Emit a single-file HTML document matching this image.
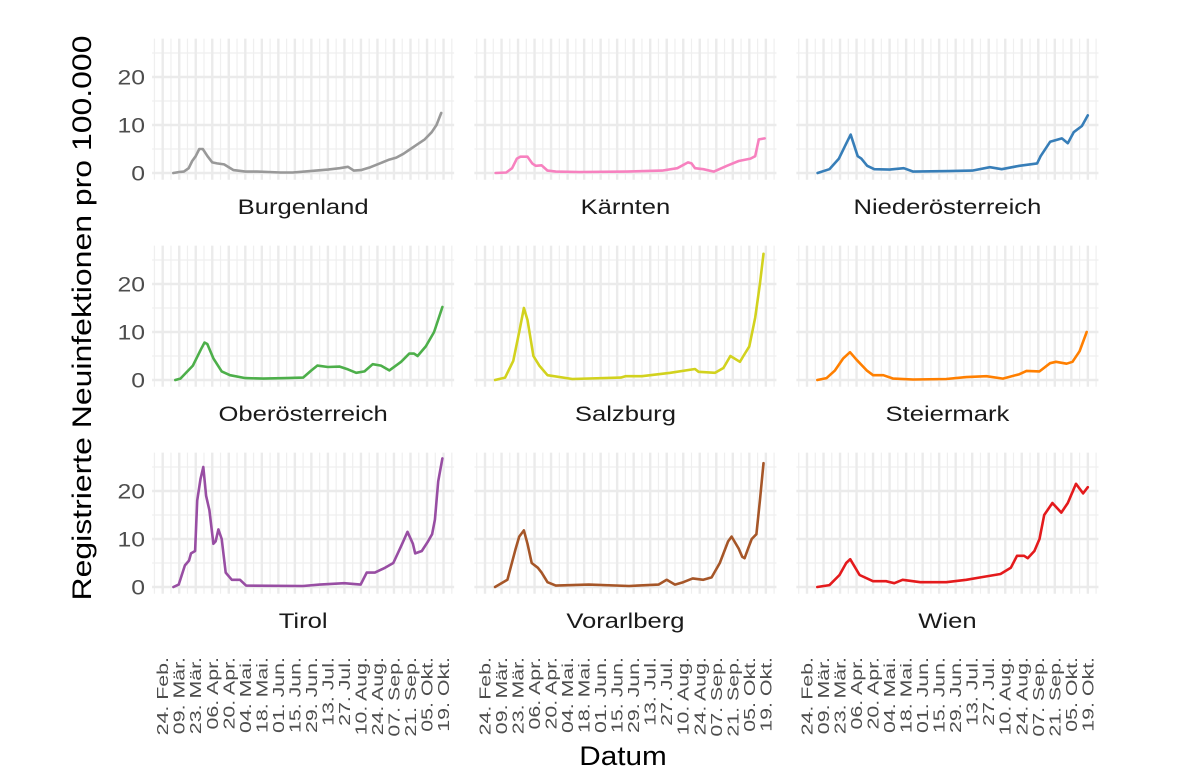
<!DOCTYPE html>
<html><head><meta charset="utf-8">
<style>
html,body{margin:0;padding:0;background:#fff;}
svg{display:block;font-family:"Liberation Sans",Arial,sans-serif;}
</style></head>
<body>
<svg id="chart" width="1200" height="783" viewBox="0 0 1200 783" xmlns="http://www.w3.org/2000/svg">
<text x="0" y="0" transform="translate(91,318) rotate(-90)" text-anchor="middle" font-size="27" fill="#000" textLength="565" lengthAdjust="spacingAndGlyphs">Registrierte Neuinfektionen pro 100.000</text>
<text x="0" y="0" transform="translate(623,765) scale(1.1,1)" text-anchor="middle" font-size="27" fill="#000">Datum</text>
</svg>
<script>
// tick labels (days since 24 Feb 2020, every 14 days)
const xTickLabels = ["24. Feb.","09. Mär.","23. Mär.","06. Apr.","20. Apr.","04. Mai.","18. Mai.","01. Jun.","15. Jun.","29. Jun.","13. Jul.","27. Jul.","10. Aug.","24. Aug.","07. Sep.","21. Sep.","05. Okt.","19. Okt."];
const yTicks = [0,10,20];
const regions = ["Burgenland","Kärnten","Niederösterreich","Oberösterreich","Salzburg","Steiermark","Tirol","Vorarlberg","Wien"];
const colors = ["#999999","#F781BF","#377EB8","#4DAF4A","#D2D21E","#FF7F00","#984EA3","#A65628","#E41A1C"];

const burgDays = [9,14,18,22,25,28,31,34,38,42,46,52,60,70,80,90,100,110,120,130,140,150,157,162,168,176,184,192,198,204,210,216,222,228,232,236];
const burgVals = [0,0.2,0.3,1,2.5,3.5,5,5,3.5,2.2,2,1.8,0.6,0.3,0.3,0.2,0.1,0.1,0.3,0.5,0.7,1.0,1.3,0.5,0.6,1.2,2,2.8,3.2,4,5,6,7,8.5,10,12.5];
const kaerDays = [9,18,23,27,30,36,40,43,48,53,60,80,120,150,163,172,175,178,185,194,205,215,225,229,232,237];
const kaerVals = [0,0.1,1,3,3.4,3.4,2,1.5,1.6,0.5,0.3,0.2,0.3,0.5,1,2.2,2,1,0.8,0.3,1.5,2.5,3,3.5,7,7.2];
const noeDays = [9,19,27,33,37,39,43,46,51,57,70,82,90,120,140,155,165,180,195,198,206,216,221,226,233,238];
const noeVals = [0,0.8,3,6,8,6.5,3.5,3,1.5,0.8,0.7,1,0.3,0.4,0.5,1.2,0.8,1.5,2,3.5,6.5,7.2,6.2,8.5,9.8,12];
const ooeDays = [10.7,15,25.6,32.6,35.4,37.8,43,50,57,70,85,105,119,126,131,140,150,157,164,171,178,185,192,202,209,213,216,223,230,237];
const ooeVals = [0,0.3,3,6.5,7.8,7.5,4.5,1.8,1,0.4,0.3,0.4,0.5,2,3,2.7,2.8,2.2,1.5,1.8,3.3,3,2,3.8,5.5,5.5,5,7,10,15.2];
const salzDays = [8.5,17,24,29,33,36,41,46,53,74,115,119,133,157,178,181,195,202,208,216,219,224,229,233,236];
const salzVals = [0,0.5,4,10,15,12.5,5,3,1,0.2,0.5,0.8,0.8,1.5,2.3,1.7,1.5,2.5,5,3.8,5,7,13,20,26.3];
const steiDays = [8.7,16.6,23.7,30.7,36.4,42,50.6,56,64.7,73,90,118,135,152,166,180,186,197,206,211,220,225,231,237];
const steiVals = [0,0.4,2,4.5,5.8,4.2,2,1,1,0.3,0.1,0.2,0.6,0.8,0.3,1.2,1.9,1.8,3.5,3.8,3.4,3.8,6,10];
const tiroDays = [9.1,13.6,18.8,22.3,24,27.5,29.2,32,34.4,36.8,39.6,43,44.8,47.2,50,53.4,58.6,65.5,70.7,119,133,153.8,167.7,172.9,179.8,188.4,195.4,202,207.5,212,214,219.6,224.8,228.3,230.7,233.5,237];
const tiroVals = [0,0.5,4.5,5.5,7,7.5,18,22.5,25,19,16,9,9.5,12,10,3,1.5,1.5,0.3,0.2,0.5,0.8,0.5,3,3,4,5,8.5,11.5,9,7,7.5,9.5,11,14,22,26.8];
const vorDays = [8.5,19,26,29,33,36,39.6,44.8,48,53,60,88,122,147,154,161,168,176,185,192,199,206,209,215,218,220,223,226,230,233,236];
const vorVals = [0,1.5,8,10.5,11.8,9,5,4,3,1,0.3,0.5,0.2,0.5,1.5,0.5,1,1.8,1.5,2,5,9.5,10.5,8,6.3,6,8,10,11,18,25.8];
const wienDays = [8.7,19.1,27.5,33.2,36.6,44.6,55.9,67,74,81,96,118,135,147,164,172.7,178,184,187,192.7,197,201,208,215.5,221,228,234,238];
const wienVals = [0,0.4,2.5,5,5.8,2.5,1.2,1.2,0.8,1.5,1,1,1.5,2,2.7,4,6.5,6.5,6,7.5,10,15,17.5,15.5,17.5,21.5,19.5,20.8];

const allDays = [burgDays,kaerDays,noeDays,ooeDays,salzDays,steiDays,tiroDays,vorDays,wienDays];
const allVals = [burgVals,kaerVals,noeVals,ooeVals,salzVals,steiVals,tiroVals,vorVals,wienVals];

const NS = "http://www.w3.org/2000/svg";
const svg = document.getElementById("chart");
const colX0 = [162.7, 485, 807];
const rowY0 = [173, 380, 587];
const pxDay = 1.18, pxVal = 4.8;
function mk(tag, attrs, parent){const e=document.createElementNS(NS,tag);for(const k in attrs)e.setAttribute(k,attrs[k]);(parent||svg).appendChild(e);return e;}

for (let i=0;i<9;i++){
  const c=i%3, r=Math.floor(i/3);
  const xs = d => colX0[c] + d*pxDay;
  const ys = v => rowY0[r] - v*pxVal;
  const g = mk("g",{});
  
  
  const left = xs(-9), right = xs(247), top = ys(28), bot = ys(-1.4);
  for (let d=-7; d<=245; d+=14){ if(xs(d)<left) continue;
    const l=mk("line",{x1:xs(d),x2:xs(d),y1:top,y2:bot,stroke:"#efefef","stroke-width":1.2},g);
      }
  for (let v=5; v<=25; v+=10){
    const l=mk("line",{x1:left,x2:right,y1:ys(v),y2:ys(v),stroke:"#efefef","stroke-width":1.2},g);
      }
  xTickLabels.forEach((t,k)=>{
    const l=mk("line",{x1:xs(k*14),x2:xs(k*14),y1:top,y2:bot,stroke:"#ebebeb","stroke-width":2.4},g);
      });
  yTicks.forEach(v=>{
    const l=mk("line",{x1:left,x2:right,y1:ys(v),y2:ys(v),stroke:"#ebebeb","stroke-width":2.4},g);
      });
  const pts = allDays[i].map((d,k)=>xs(d).toFixed(1)+","+ys(allVals[i][k]).toFixed(1)).join(" ");
  const pl = mk("polyline",{points:pts,fill:"none",stroke:colors[i],"stroke-width":2.6,"stroke-linejoin":"round","stroke-linecap":"round"},g);
  
  
  const st = mk("text",{x:0,y:0,transform:"translate("+((left+right)/2)+","+(rowY0[r]+41)+") scale(1.22,1)","text-anchor":"middle","font-size":21,fill:"#1a1a1a"},g);
  st.textContent = regions[i];
  
  
  if (c===0){
    yTicks.forEach(v=>{
      const t=mk("text",{x:0,y:0,transform:"translate(145,"+(ys(v)+7.5)+") scale(1.18,1)","text-anchor":"end","font-size":21,fill:"#4d4d4d"});
      t.textContent=v;
      
      
    });
  }
  if (r===2){
    xTickLabels.forEach((lab,k)=>{
      const t=mk("text",{x:0,y:0,transform:"translate("+(xs(k*14)+5.5)+",657) rotate(-90) scale(1.38,1)","text-anchor":"end","font-size":15.5,fill:"#4d4d4d"});
      t.textContent=lab;
      
      
    });
  }
}
</script>
</body></html>
